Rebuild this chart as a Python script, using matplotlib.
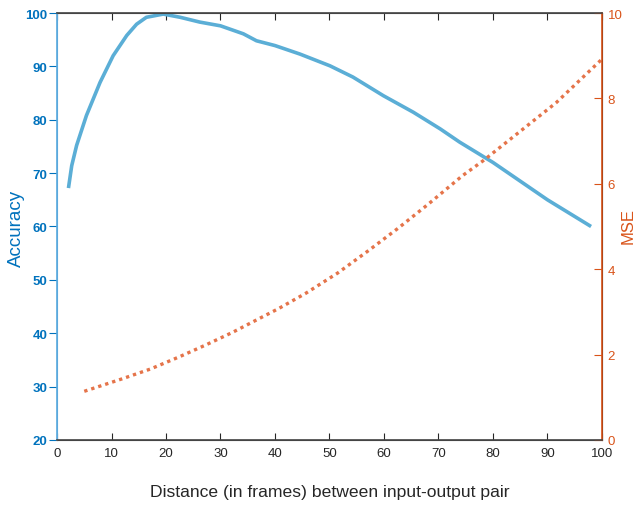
import matplotlib.pyplot as plt

plt.rcParams['font.family'] = ['Liberation Sans', 'DejaVu Sans']

# Accuracy curve (left axis)
dist_acc = [2.1, 2.7, 3.6, 5.4, 7.9, 10.3, 12.8, 14.6, 16.4, 19.5, 22.6, 26.2, 30,
            34.2, 36.6, 40, 44.6, 50.1, 54.3, 59.9, 65.4, 70.3, 73.9, 80, 90, 98]
accuracy = [67.2, 71.4, 75.2, 80.8, 87.0, 92.0, 95.8, 97.9, 99.2, 99.8, 99.2, 98.3,
            97.6, 96.1, 94.8, 93.9, 92.3, 90.1, 88.0, 84.5, 81.4, 78.3, 75.8, 72.0,
            65.0, 60.0]

# MSE curve (right axis)
dist_mse = [5.0, 11.9, 17.1, 22.3, 27.2, 32.2, 37.2, 40.7, 45.7, 51.5, 57.1, 62.6,
            68.0, 74.4, 78.2, 85, 91.6, 100]
mse = [1.14, 1.43, 1.66, 1.94, 2.22, 2.52, 2.85, 3.08, 3.44, 3.91, 4.43, 4.96,
       5.51, 6.19, 6.54, 7.23, 7.9, 8.92]

azul = '#0072BD'
azul_linea = '#5BAED6'
naranja = '#D95319'
naranja_linea = '#E5744A'
gris = '#262626'

fig = plt.figure(figsize=(6.37, 5.06), dpi=100)
ax = fig.add_axes([0.0895, 0.1285, 0.8555, 0.8438])
ax2 = ax.twinx()

ax.plot(dist_acc, accuracy, color=azul_linea, linewidth=2.6, solid_capstyle='butt',
        solid_joinstyle='round')
ax2.plot(dist_mse, mse, color=naranja_linea, linewidth=2.4,
         linestyle=(0, (1, 1.2)), dash_capstyle='butt')

ax.set_xlim(0, 100)
ax.set_ylim(20, 100)
ax2.set_ylim(0, 10)
ax.set_xticks(range(0, 101, 10))
ax.set_yticks(range(20, 101, 10))
ax2.set_yticks(range(0, 11, 2))

for lado in ['top', 'bottom']:
    ax.spines[lado].set_color('#444444')
    ax2.spines[lado].set_color('#444444')
ax2.spines['left'].set_color('#5AA9DD')
ax.spines['left'].set_color('#5AA9DD')
ax2.spines['right'].set_color(naranja)
for sp in ax2.spines.values():
    sp.set_linewidth(1.2)

ax.tick_params(axis='x', direction='in', length=5, top=True, colors=gris,
               labelsize=9.5, pad=5)
ax.tick_params(axis='y', direction='out', length=6, colors=azul, labelsize=9.5, pad=1)
for t in ax.get_yticklabels():
    t.set_fontweight('bold')
ax2.tick_params(axis='y', direction='in', length=6, colors=naranja, labelsize=9.5, pad=4)

ax.set_xlabel('Distance (in frames) between input-output pair', fontsize=12.6,
              color=gris, labelpad=18)

# etiquetas de los ejes y puestas a mano para que no se corten
fig.text(16 / 637, 1 - 228 / 506, 'Accuracy', fontsize=13.5, color=azul,
         rotation=90, ha='center', va='center')
fig.text(628.5 / 637, 1 - 226 / 506, 'MSE', fontsize=12, color=naranja,
         rotation=90, ha='center', va='center')

fig.savefig('out.png', dpi=100)
